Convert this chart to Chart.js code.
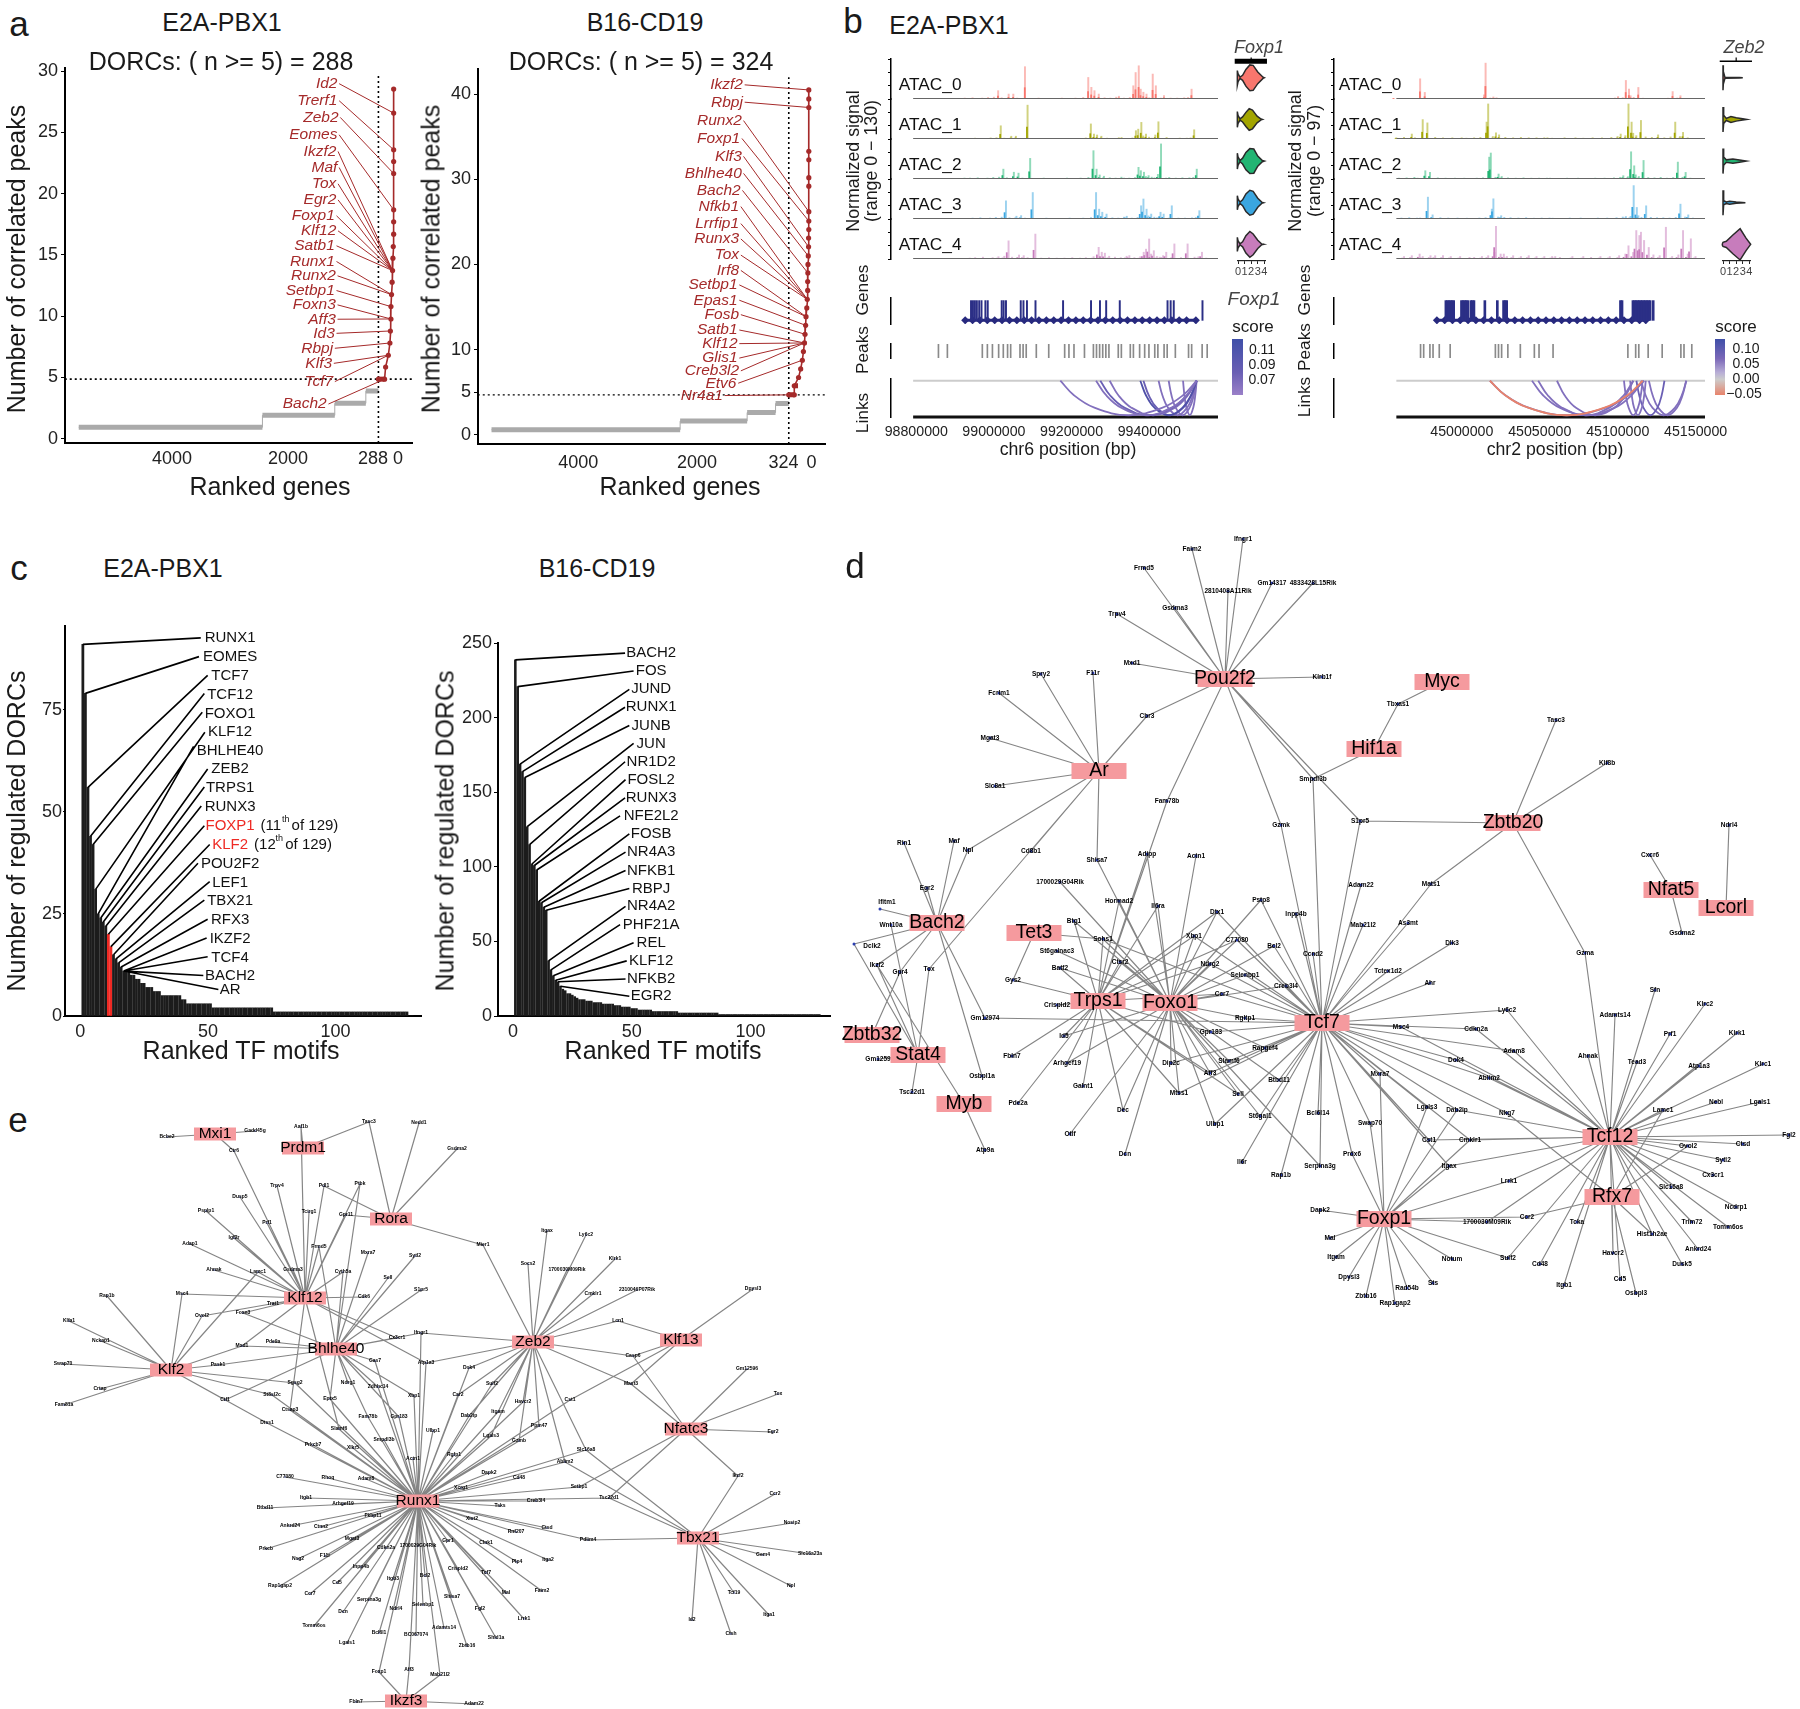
<!DOCTYPE html>
<html>
<head>
<meta charset="utf-8">
<title>DORC and TF network figure</title>
<script src="https://cdn.jsdelivr.net/npm/chart.js@4"></script>
<style>
body { margin: 0; background: #fff; width: 1800px; height: 1709px; position: relative; overflow: hidden; font-family: "Liberation Sans", sans-serif; }
canvas { position: absolute; }
.t { position: absolute; white-space: nowrap; line-height: 1; color: #1a1a1a; transform: translate(-50%, -50%); }
.bar { position: absolute; width: 10.5px; height: 56px; top: 339px; }
</style>
</head>
<body>
<script>
// panel a : ranked genes, steps of the curve and the DORC points
const a1GrayRank = [5500, 2305, 1047, 507, 288];
const a1GrayN = [0.93, 1.91, 2.89, 3.9];
const a1RedRank = [23, 23, 23, 23, 23, 23, 23, 23, 30, 36, 42, 50, 60, 70, 70, 80, 88, 116, 163, 181];
const a1RedN = [28.53, 26.57, 23.58, 22.62, 21.64, 18.68, 17.7, 16.69, 15.68, 14.73, 13.72, 12.77, 11.76, 10.78, 9.77, 8.79, 7.81, 6.81, 5.85, 4.86];
const a1Genes = ['Id2', 'Trerf1', 'Zeb2', 'Eomes', 'Ikzf2', 'Maf', 'Tox', 'Egr2', 'Foxp1', 'Klf12', 'Satb1', 'Runx1', 'Runx2', 'Setbp1', 'Foxn3', 'Aff3', 'Id3', 'Rbpj', 'Klf3', 'Tcf7', 'Bach2'];
const a1GeneRank = [1001, 1001, 982, 1001, 1020, 1001, 1020, 1020, 1047, 1020, 1047, 1047, 1029, 1047, 1029, 1029, 1047, 1076, 1094, 1076, 1187];
const a1GeneN = [28.97, 27.58, 26.22, 24.8, 23.44, 22.13, 20.8, 19.49, 18.19, 16.96, 15.74, 14.46, 13.29, 12.09, 10.92, 9.75, 8.6, 7.38, 6.15, 4.66, 2.83];
const a1GenePoint = [1, 2, 4, 5, 10, 10, 10, 10, 10, 10, 10, 12, 12, 13, 14, 14, 15, 16, 17, 17, 19];
const a1YTicks = [0, 5, 10, 15, 20, 25, 30];
// the printed labels sit a little away from the true ranks
const a1XTicks = [3878, 1861, 383, -52];
const a1XLabels = ['4000', '2000', '288', '0'];

const a2GrayRank = [5337, 2156, 1026, 547, 324];
const a2GrayN = [0.59, 1.6, 2.6, 3.67];
const a2RedRank = [-14, -14, -14, -14, -14, -14, -14, -14, -14, -14, -10, -10, -5, 0, 2, 5, 5, 12, 20, 33, 40, 50, 59, 77, 95, 123, 159, 231, 231];
const a2RedN = [40.5, 39.45, 38.44, 33.3, 32.3, 30.2, 29.2, 26.2, 25.1, 24.1, 23.1, 22.07, 21, 20, 19, 18, 16.95, 15.9, 14.9, 13.87, 12.85, 11.8, 10.78, 9.77, 8.75, 7.73, 6.72, 5.74, 4.69];
const a2Genes = ['Ikzf2', 'Rbpj', 'Runx2', 'Foxp1', 'Klf3', 'Bhlhe40', 'Bach2', 'Nfkb1', 'Lrrfip1', 'Runx3', 'Tox', 'Irf8', 'Setbp1', 'Epas1', 'Fosb', 'Satb1', 'Klf12', 'Glis1', 'Creb3l2', 'Etv6', 'Nr4a1'];
const a2GeneRank = [1098, 1098, 1117, 1144, 1117, 1117, 1135, 1162, 1162, 1162, 1162, 1162, 1188, 1188, 1162, 1188, 1188, 1188, 1162, 1207, 1434];
const a2GeneN = [41.1, 39.06, 36.9, 34.8, 32.7, 30.7, 28.7, 26.8, 24.8, 23, 21.1, 19.3, 17.6, 15.8, 14.1, 12.3, 10.7, 9, 7.5, 6.05, 4.6];
const a2GenePoint = [0, 2, 7, 8, 11, 12, 14, 17, 17, 17, 17, 19, 19, 20, 21, 22, 22, 22, 22, 24, 28];
const a2YTicks = [0, 5, 10, 20, 30, 40];
const a2XTicks = [3873, 1873, 412, -59];
const a2XLabels = ['4000', '2000', '324', '0'];

// panel b : positions in kb, signal in the units of each range
const leftSpikePos = [98926, 99026, 99053, 99065, 99095, 99258, 99266, 99274, 99285, 99337, 99374, 99380, 99388, 99393, 99400, 99408, 99424, 99432, 99453, 99487, 99524];
const leftSpike0 = [2, 27, 16, 16, 105, 70, 38, 27, 16, 9, 43, 86, 108, 32, 22, 16, 81, 43, 11, 3, 32];
const leftSpike1 = [2, 43, 9, 9, 110, 49, 16, 13, 9, 5, 27, 32, 54, 10, 16, 6, 13, 56, 5, 3, 30];
const leftSpike2 = [3, 32, 22, 19, 67, 92, 32, 13, 9, 3, 38, 27, 22, 8, 11, 6, 15, 114, 5, 4, 32];
const leftSpike3 = [2, 59, 9, 11, 86, 86, 32, 22, 16, 9, 43, 65, 32, 10, 16, 6, 22, 16, 43, 3, 27];
const leftSpike4 = [3, 59, 13, 11, 81, 38, 22, 19, 9, 11, 22, 32, 65, 16, 27, 8, 11, 22, 49, 49, 22];
const leftLowPos = [98940, 98960, 98985, 99000, 99015, 99035, 99075, 99110, 99130, 99150, 99170, 99190, 99210, 99225, 99245, 99300, 99315, 99330, 99350, 99365, 99415, 99445, 99470, 99505, 99515, 99535];
const leftLowVal = [3, 4, 3, 5, 6, 4, 3, 2, 3, 2, 2, 3, 2, 3, 5, 4, 3, 6, 3, 5, 4, 3, 3, 4, 5, 2];
const leftLowScale = [1, 0.7, 1, 1, 1.5];
const rightSpikePos = [44970, 44977, 44980, 45002, 45018, 45019, 45024, 45026, 45045, 45057, 45104, 45109, 45111, 45112, 45114, 45117, 45128, 45139, 45144];
const rightSpike0 = [1, 49, 16, 1, 10, 87, 5, 3, 1, 1, 6, 45, 24, 8, 4, 28, 1, 18, 8];
const rightSpike1 = [12, 47, 39, 3, 41, 85, 15, 10, 3, 3, 12, 85, 41, 14, 8, 45, 10, 41, 16];
const rightSpike2 = [4, 20, 16, 2, 53, 63, 12, 6, 2, 2, 8, 66, 32, 10, 6, 45, 4, 41, 16];
const rightSpike3 = [2, 53, 10, 2, 24, 49, 8, 4, 2, 2, 6, 81, 28, 8, 4, 32, 3, 36, 10];
const rightSpike4 = [12, 8, 8, 4, 16, 79, 12, 6, 6, 6, 32, 69, 57, 65, 45, 28, 77, 69, 49];
const rightLowPos = [44960, 44965, 44972, 44985, 44990, 44996, 45005, 45010, 45014, 45022, 45030, 45035, 45040, 45050, 45055, 45060, 45068, 45075, 45080, 45086, 45092, 45098, 45102, 45107, 45120, 45124, 45132, 45136, 45142, 45147];
const rightLowVal = [3, 4, 3, 4, 3, 3, 2, 3, 4, 6, 4, 3, 4, 3, 3, 2, 3, 3, 2, 3, 3, 4, 6, 8, 5, 4, 3, 5, 6, 3];
const rightLowScale = [0.4, 1, 0.7, 0.8, 2];
const leftExons = [98926, 98931, 98936, 98941, 98947, 98953, 98963, 98969, 99005, 99010, 99016, 99054, 99061, 99070, 99092, 99163, 99235, 99258, 99274, 99309, 99432, 99440, 99448, 99522];
const leftArrows = [98926, 98945, 98964, 98983, 99002, 99021, 99040, 99059, 99078, 99097, 99116, 99135, 99154, 99173, 99192, 99211, 99230, 99249, 99268, 99287, 99306, 99325, 99344, 99363, 99382, 99401, 99420, 99439, 99458, 99477, 99496, 99520];
const rightExons = [44984, 44985, 44986, 44987, 44988, 44989, 44994, 44995, 44996, 44997, 44998, 45000, 45001, 45002, 45009, 45017, 45021, 45022, 45023, 45096, 45097, 45104, 45105, 45106, 45107, 45108, 45109, 45110, 45111, 45112, 45113, 45114, 45115, 45117];
const rightArrows = [44984, 44989, 44994, 44999, 45004, 45009, 45014, 45019, 45024, 45029, 45034, 45039, 45044, 45049, 45054, 45059, 45064, 45069, 45074, 45079, 45084, 45089, 45094, 45099, 45104, 45109, 45114, 45118];
const leftPeaks = [98843, 98866, 98956, 98969, 98982, 98998, 99010, 99021, 99029, 99053, 99061, 99069, 99095, 99127, 99168, 99179, 99192, 99219, 99242, 99250, 99258, 99266, 99274, 99282, 99306, 99314, 99337, 99345, 99361, 99374, 99385, 99400, 99408, 99424, 99432, 99453, 99487, 99495, 99522, 99535];
const rightPeaks = [44970, 44972, 44976, 44978, 44982, 44989, 45018, 45020, 45022, 45026, 45034, 45043, 45046, 45055, 45103, 45108, 45110, 45116, 45125, 45137, 45139, 45144];
const leftLinkStart = [99171, 99263, 99274, 99298, 99377, 99385, 99424, 99450, 99487];
const leftLinkEnd = [99522, 99522, 99522, 99522, 99522, 99522, 99522, 99522, 99522];
const leftLinkScore = [0.08, 0.08, 0.09, 0.08, 0.11, 0.09, 0.08, 0.08, 0.07];
const rightLinkStart = [45018, 45018, 45045, 45049, 45061, 45104, 45108, 45112, 45115, 45120];
const rightLinkEnd = [45116, 45117, 45116, 45110, 45110, 45116, 45118, 45130, 45144, 45144];
const rightLinkScore = [-0.05, 0.07, 0.06, 0.07, 0.06, 0.08, 0.08, 0.09, 0.07, 0.07];
const leftTicks = [98800000, 99000000, 99200000, 99400000];
const rightTicks = [45000000, 45050000, 45100000, 45150000];
const clusterNames = ['ATAC_0', 'ATAC_1', 'ATAC_2', 'ATAC_3', 'ATAC_4'];
const violinTicks = [0, 1, 2, 3, 4];
const foxp1Expr = [[-0.1, 0, 0.3, 0.7, 1.2, 1.8, 2.3, 3, 3.8, 4], [-0.1, 0, 0.3, 0.7, 1.2, 1.7, 2.2, 2.9, 3.5, 3.7], [-0.1, 0, 0.3, 0.7, 1.2, 1.8, 2.4, 3, 3.7, 4], [-0.1, 0, 0.3, 0.7, 1.2, 1.8, 2.3, 3, 3.6, 3.9], [-0.1, 0, 0.3, 0.7, 1.2, 1.8, 2.3, 3, 3.6, 3.9]];
const foxp1Dens = [[0.35, 0.2, 0.03, 0.12, 0.4, 0.62, 0.6, 0.28, 0.03, 0], [0.38, 0.2, 0.03, 0.12, 0.34, 0.52, 0.45, 0.16, 0.02, 0], [0.38, 0.2, 0.03, 0.14, 0.42, 0.6, 0.58, 0.24, 0.03, 0], [0.34, 0.18, 0.03, 0.14, 0.42, 0.6, 0.55, 0.22, 0.03, 0], [0.34, 0.18, 0.02, 0.12, 0.42, 0.62, 0.5, 0.2, 0.02, 0]];
const zeb2Expr = [[0, 0.05, 0.3, 2.5, 3], [0, 0.1, 0.5, 1.2, 2, 3, 3.6], [0, 0.1, 0.5, 1.5, 2.5, 3.5], [0, 0.1, 0.5, 1, 2, 3.4], [-0.1, 0, 0.5, 1.5, 2.6, 3.5, 4.2]];
const zeb2Dens = [[0.6, 0.3, 0.02, 0.012, 0], [0.6, 0.2, 0.05, 0.14, 0.08, 0.03, 0], [0.6, 0.2, 0.06, 0.1, 0.05, 0], [0.6, 0.1, 0.04, 0.07, 0.03, 0], [0.03, 0.1, 0.15, 0.45, 0.75, 0.3, 0]];

// panel c : regulated DORCs per ranked TF motif
const c1Values = [91, 79, 56, 44, 42, 31, 25, 24, 23, 22, 20, 17, 15, 14, 13, 12, 11, 11, 11, 10, 10, 9, 9, 8, 8, 7, 7, 7, 6, 6, 6, 5, 5, 5, 5, 5, 5, 5, 5, 4, 4,
  3, 3, 3, 3, 3, 3, 3, 3, 3, 3, 2, 2, 2, 2, 2, 2, 2, 2, 2, 2, 2, 2, 2, 2, 2, 2, 2, 2, 2, 2, 2, 2, 2, 2,
  1, 1, 1, 1, 1, 1, 1, 1, 1, 1, 1, 1, 1, 1, 1, 1, 1, 1, 1, 1, 1, 1, 1, 1, 1, 1, 1, 1, 1, 1, 1, 1, 1, 1, 1, 1, 1, 1, 1, 1, 1, 1, 1, 1, 1, 1, 1, 1, 1, 1, 1, 1, 1, 0, 0];
const c1Names = ['RUNX1', 'EOMES', 'TCF7', 'TCF12', 'FOXO1', 'KLF12', 'BHLHE40', 'ZEB2', 'TRPS1', 'RUNX3', 'FOXP1', 'KLF2', 'POU2F2', 'LEF1', 'TBX21', 'RFX3', 'IKZF2', 'TCF4', 'BACH2', 'AR'];
const c1NameY = [92.6, 88, 83.4, 78.7, 74.1, 69.5, 65, 60.4, 55.8, 51.2, 46.6, 42, 37.3, 32.6, 28.2, 23.5, 18.9, 14.3, 9.9, 6.3];
const c1EndRank = [47.2, 46.5, 49.9, 48.6, 47.8, 48.8, 44.4, 49.9, 48.6, 47.4, 48.6, 50.7, 46.1, 50.7, 48.6, 49.9, 49.5, 49.9, 48.2, 54.1];
const c1EndY = [92.6, 88, 83.4, 79, 74.4, 69.5, 66, 60.5, 56.1, 51.4, 46.6, 42, 37.4, 32.9, 28.4, 23.7, 19.1, 14.5, 9.9, 6.5];
const c1StartRank = [1, 2, 3, 4, 5, 6, 7, 8, 9, 10, 11, 12, 13, 14, 15, 16, 17, 17, 17, 17];
const c1XTicks = [0, 50, 100];
const c1YTicks = [0, 25, 50, 75];

const c2Values = [239, 221, 169, 164, 160, 127, 115, 102, 101, 98, 77, 76, 73, 71, 37, 31, 27, 24, 23, 20,
  18, 17, 15, 15, 14, 13, 12, 11, 11, 11, 10, 10, 10, 9, 9, 9, 9, 8, 8, 8, 8, 8, 7, 7, 7, 6, 6, 6, 6, 5, 5, 5, 4, 4, 4, 4, 4, 4,
  3, 3, 3, 3, 3, 3, 3, 3, 3, 3, 3, 2, 2, 2, 2, 2, 2, 2, 2, 2, 2, 2, 2, 2, 2, 2, 2, 2,
  1, 1, 1, 1, 1, 1, 1, 1, 1, 1, 1, 1, 1, 1, 1, 1, 1, 1, 1, 1, 1, 1, 1, 1, 1, 1, 1, 1, 1, 1, 1, 1, 1, 1, 1, 1, 1, 1, 1, 1, 1, 1, 1];
const c2Names = ['BACH2', 'FOS', 'JUND', 'RUNX1', 'JUNB', 'JUN', 'NR1D2', 'FOSL2', 'RUNX3', 'NFE2L2', 'FOSB', 'NR4A3', 'NFKB1', 'RBPJ', 'NR4A2', 'PHF21A', 'REL', 'KLF12', 'NFKB2', 'EGR2'];
const c2EndRank = [47.2, 50.8, 49, 47.2, 49, 50.8, 47.2, 47.4, 47.2, 45.1, 49, 47.4, 47.4, 49, 47.4, 45.1, 50.8, 47.9, 47.4, 49];
const c2EndY = [243.5, 231.5, 219.2, 207.2, 194.9, 182.9, 170.6, 158.6, 146.3, 134.3, 122.2, 110, 97.7, 85.6, 73.6, 61.3, 49.1, 37, 24.8, 13.2];
const c2StartRank = [1, 2, 3, 4, 5, 6, 7, 8, 9, 10, 11, 12, 13, 14, 15, 16, 17, 18, 19, 20];
const c2XTicks = [0, 50, 100];
const c2YTicks = [0, 50, 100, 150, 200, 250];

// panel d : TF hubs and target genes, layout positions of the graph
const dHubs = [['Pou2f2', 1225, 677], ['Ar', 1099, 769], ['Myc', 1442, 680], ['Hif1a', 1374, 747], ['Zbtb20', 1513, 821], ['Nfat5', 1671, 888], ['Lcorl', 1726, 906], ['Bach2', 937, 921], ['Tet3', 1034, 931], ['Trps1', 1098, 999], ['Foxo1', 1170, 1001], ['Tcf7', 1322, 1021], ['Tcf12', 1610, 1135], ['Rfx7', 1612, 1195], ['Foxp1', 1384, 1217], ['Zbtb32', 872, 1033], ['Stat4', 918, 1053], ['Myb', 964, 1102]];
const dGenes = [
  ['Ifngr1', 1243, 537, 'Pou2f2'], ['Faim2', 1192, 547, 'Pou2f2'], ['Frmd5', 1144, 566, 'Pou2f2'], ['2810408A11Rik', 1228, 589, 'Pou2f2'],
  ['Gm14317', 1272, 581, 'Pou2f2'], ['4833428L15Rik', 1313, 581, 'Pou2f2'], ['Gsdma3', 1175, 606, 'Pou2f2'], ['Trpv4', 1117, 612, 'Pou2f2'],
  ['Mxd1', 1132, 661, 'Pou2f2'], ['Klrb1f', 1322, 675, 'Pou2f2'], ['Spry2', 1041, 672, 'Ar'], ['F11r', 1093, 671, 'Ar'], ['Fcrlm1', 999, 691, 'Ar'],
  ['Cbr3', 1147, 714, 'Ar Pou2f2'], ['Mgat3', 990, 736, 'Ar'], ['Slc8a1', 995, 784, 'Ar'], ['Fam78b', 1167, 799, 'Pou2f2 Trps1'],
  ['Smpdl3b', 1313, 777, 'Pou2f2 Hif1a Tcf7'], ['Gzmk', 1281, 823, 'Pou2f2 Tcf7'], ['Rin1', 904, 841, 'Bach2'], ['Maf', 954, 839, 'Bach2'],
  ['Npl', 968, 848, 'Bach2 Ar'], ['Cd8b1', 1031, 849, 'Ar'], ['Shisa7', 1097, 858, 'Ar Foxo1'], ['Adipp', 1147, 852, 'Trps1 Foxo1'], ['Actn1', 1196, 854, 'Foxo1'],
  ['S1pr5', 1360, 819, 'Zbtb20 Pou2f2 Tcf7'], ['Adam22', 1361, 883, 'Tcf7'], ['Mats1', 1431, 882, 'Zbtb20 Tcf7'], ['Mab21l2', 1363, 923, 'Tcf7'],
  ['As3mt', 1408, 921, 'Tcf7'], ['Dlk3', 1452, 941, 'Tcf7'], ['Tctex1d2', 1388, 969, 'Tcf7'], ['Ahr', 1430, 981, 'Tcf7'], ['Ccnd2', 1313, 952, 'Tcf7'],
  ['Inpp4b', 1296, 912, 'Tcf7'], ['Pstp8', 1261, 898, 'Foxo1 Tcf7'], ['Bcl2', 1274, 944, 'Foxo1 Tcf7'], ['Dtx1', 1217, 910, 'Trps1 Foxo1 Tcf7'],
  ['Xbp1', 1194, 934, 'Trps1 Foxo1 Tcf7'], ['C77080', 1237, 938, 'Trps1 Foxo1 Tcf7'], ['Ndrg2', 1210, 962, 'Trps1 Foxo1 Tcf7'], ['Selenbp1', 1245, 973, 'Foxo1 Tcf7'],
  ['Creb3l4', 1286, 984, 'Foxo1 Tcf7'], ['Ccr7', 1222, 992, 'Trps1 Foxo1 Tcf7'], ['Rgltp1', 1245, 1016, 'Foxo1 Tcf7'], ['Gpr183', 1211, 1030, 'Trps1 Tcf7'],
  ['Rapgef4', 1265, 1046, 'Foxo1 Tcf7'], ['Slamf6', 1229, 1059, 'Foxo1 Tcf7'], ['Aff3', 1210, 1071, 'Trps1 Foxo1 Tcf7'], ['Dip2c', 1171, 1061, 'Foxo1 Tcf7'],
  ['Mtss1', 1179, 1091, 'Trps1 Foxo1 Tcf7'], ['Sell', 1238, 1092, 'Trps1 Foxo1'], ['Btbd11', 1279, 1078, 'Foxo1 Tcf7'], ['St6gal1', 1260, 1114, 'Foxo1 Tcf7'],
  ['Ulbp1', 1215, 1122, 'Foxo1 Tcf7'], ['Il6r', 1242, 1160, 'Tcf7'], ['Rap1b', 1281, 1173, 'Tcf7'], ['Serpina3g', 1320, 1164, 'Tcf7 Foxo1'],
  ['Bcl6l14', 1318, 1111, 'Tcf7'], ['Swap70', 1370, 1121, 'Tcf7 Foxp1'], ['Prdx6', 1352, 1152, 'Tcf7 Foxp1'], ['Mxra7', 1380, 1072, 'Tcf7 Foxp1'],
  ['Lgals3', 1427, 1105, 'Tcf7 Foxp1'], ['Dab2ip', 1457, 1108, 'Tcf12 Foxp1 Tcf7'], ['Cst1', 1429, 1138, 'Tcf7 Tcf12'], ['Cmklr1', 1470, 1138, 'Tcf7 Tcf12 Foxp1'],
  ['Itgax', 1449, 1164, 'Tcf7 Tcf12 Foxp1'], ['Lrrk1', 1509, 1179, 'Foxp1 Tcf12'], ['Ly6c2', 1507, 1008, 'Tcf7 Tcf12'], ['Msc4', 1401, 1025, 'Tcf7 Tcf12'],
  ['Cdkn2a', 1476, 1027, 'Tcf7 Tcf12'], ['Adam8', 1514, 1049, 'Tcf7 Tcf12'], ['Dok4', 1456, 1058, 'Tcf7 Tcf12'], ['Ablim2', 1489, 1076, 'Tcf7 Tcf12'],
  ['Nkg7', 1507, 1111, 'Tcf7 Rfx7'], ['Gzma', 1585, 951, 'Zbtb20 Tcf12'], ['Tasc3', 1556, 718, 'Zbtb20'], ['Klf8b', 1607, 761, 'Zbtb20'], ['Cxcr6', 1650, 853, 'Nfat5'],
  ['Ndrl4', 1729, 823, 'Lcorl'], ['Gsdma2', 1682, 931, 'Nfat5'], ['Tbxas1', 1398, 702, 'Myc Hif1a'], ['Adamts14', 1615, 1013, 'Tcf12'], ['Ahnak', 1588, 1054, 'Tcf12'],
  ['Tead3', 1637, 1060, 'Tcf12'], ['Sfn', 1655, 988, 'Tcf12'], ['Prf1', 1670, 1032, 'Tcf12'], ['Klrc2', 1705, 1002, 'Tcf12'], ['Klrk1', 1737, 1031, 'Tcf12'],
  ['Atp1a3', 1699, 1064, 'Tcf12'], ['Klrc1', 1763, 1062, 'Tcf12'], ['Nebl', 1716, 1100, 'Tcf12'], ['Lgals1', 1760, 1100, 'Tcf12'], ['Lamc1', 1663, 1108, 'Tcf12 Rfx7'],
  ['Fgl2', 1789, 1133, 'Tcf12'], ['Ctsd', 1743, 1142, 'Tcf12'], ['Ovol2', 1688, 1144, 'Tcf12 Rfx7'], ['Sytl2', 1723, 1158, 'Tcf12'], ['Cx3cr1', 1713, 1173, 'Tcf12'],
  ['Slc16a8', 1671, 1185, 'Tcf12'], ['Ncdrp1', 1736, 1205, 'Tcf12'], ['Trim72', 1692, 1220, 'Tcf12'], ['Tomm6os', 1728, 1225, 'Tcf12'], ['Hist1h2ae', 1652, 1232, 'Tcf12 Rfx7'],
  ['Ankrd24', 1698, 1247, 'Tcf12'], ['Ccr2', 1527, 1215, 'Foxp1 Rfx7'], ['1700030M09Rik', 1487, 1220, 'Foxp1 Tcf12'], ['Tcka', 1577, 1220, 'Tcf12'],
  ['Havcr2', 1613, 1251, 'Rfx7 Tcf12'], ['Dapk2', 1320, 1208, 'Foxp1'], ['Mal', 1330, 1236, 'Foxp1'], ['Itgam', 1336, 1255, 'Foxp1'], ['Notum', 1452, 1257, 'Foxp1'],
  ['Sulf2', 1508, 1256, 'Foxp1 Tcf12'], ['Dpysl3', 1349, 1275, 'Foxp1'], ['Zbtb16', 1366, 1294, 'Foxp1'], ['Rap1gap2', 1395, 1301, 'Foxp1'], ['Rad54b', 1407, 1286, 'Foxp1'],
  ['Sts', 1433, 1281, 'Foxp1'], ['Cd48', 1540, 1262, 'Tcf12'], ['Itgb1', 1564, 1283, 'Tcf12'], ['Cd5', 1620, 1277, 'Tcf12'], ['Osbpl3', 1636, 1291, 'Rfx7'], ['Dusk5', 1682, 1262, 'Tcf12'],
  ['Egr2', 927, 886, 'Bach2'], ['Wnt10a', 891, 923, 'Stat4'], ['Ikzf2', 877, 963, 'Bach2 Stat4 Myb'], ['Gpr4', 900, 970, 'Bach2 Zbtb32'], ['Tox', 929, 967, 'Ar Stat4'],
  ['Gm12974', 985, 1016, 'Bach2 Tcf7'], ['Gm1259', 878, 1057, 'Stat4'], ['Tsc22d1', 912, 1090, 'Stat4'], ['Osbpl1a', 982, 1074, 'Bach2'], ['Atp9a', 985, 1148, 'Myb'],
  ['Gys2', 1013, 978, 'Tet3 Trps1'], ['Sohs1', 1103, 937, 'Tet3 Foxo1 Trps1 Tcf7'], ['1700029G04Rik', 1060, 880, 'Foxo1'], ['Hormad2', 1119, 899, 'Trps1 Foxo1'],
  ['Il6ra', 1158, 904, 'Trps1 Foxo1'], ['Btg1', 1074, 919, 'Trps1 Foxo1'], ['St6galnac3', 1057, 949, 'Foxo1'], ['Batf2', 1060, 966, 'Trps1 Foxo1'], ['Ctsr2', 1120, 960, 'Trps1 Foxo1'],
  ['Crispld2', 1057, 1003, 'Trps1'], ['Fbln7', 1012, 1054, 'Trps1'], ['Id5', 1064, 1034, 'Trps1 Foxo1'], ['Arhgef19', 1067, 1061, 'Trps1 Foxo1'], ['Galnt1', 1083, 1084, 'Trps1'],
  ['Pde2a', 1018, 1101, 'Trps1'], ['Otlf', 1070, 1132, 'Foxo1'], ['Dec', 1123, 1108, 'Trps1 Foxo1'], ['Dcn', 1125, 1152, 'Foxo1']
];
// these two have the name set beside the dot
const dOffset = [['Ifitm1', 880, 907, 'Bach2', 887, 900], ['Dclk2', 854, 942, 'Bach2 Stat4', 872, 944]];

// panel e
const eHubs = [['Mxi1', 215, 1132], ['Prdm1', 303, 1146], ['Rora', 391, 1217], ['Klf12', 305, 1296], ['Bhlhe40', 336, 1347], ['Klf2', 171, 1368], ['Zeb2', 533, 1340], ['Klf13', 681, 1338], ['Nfatc3', 686, 1427], ['Runx1', 418, 1499], ['Tbx21', 698, 1536], ['Ikzf3', 406, 1699]];
const eGenes = [
  ['Bcbe2', 167, 1135, 'Mxi1'], ['Gadd45g', 255, 1129, 'Mxi1'], ['Ctr6', 234, 1149, 'Mxi1 Klf12'], ['Aaf1b', 301, 1125, 'Prdm1 Klf12'], ['Tasc3', 369, 1120, 'Prdm1 Rora'],
  ['Nedd1', 419, 1121, 'Rora'], ['Gsdma2', 457, 1147, 'Rora'], ['Trpv4', 277, 1184, 'Klf12'], ['Pdl1', 324, 1184, 'Rora Klf12'], ['Ptbk', 360, 1182, 'Klf12 Bhlhe40'],
  ['Dusp5', 240, 1195, 'Klf12'], ['Prf1', 267, 1221, 'Klf12'], ['Tcirg1', 309, 1210, 'Klf12'], ['Gpr11', 346, 1213, 'Rora Klf12'], ['Psplp1', 206, 1209, 'Klf12'],
  ['Igf2r', 234, 1236, 'Klf12'], ['Adap1', 190, 1242, 'Klf12'], ['Frmd5', 319, 1245, 'Klf12 Bhlhe40'], ['Mxra7', 368, 1251, 'Bhlhe40'], ['Ahnak', 214, 1268, 'Klf12'],
  ['Lamc1', 258, 1270, 'Klf12 Klf2'], ['Gsdma3', 293, 1268, 'Klf12'], ['Cyth5a', 343, 1270, 'Klf12 Bhlhe40'], ['Sell', 388, 1276, 'Bhlhe40'], ['Sytl2', 415, 1254, 'Bhlhe40'],
  ['S1pr5', 421, 1288, 'Bhlhe40'], ['Cdk6', 364, 1295, 'Klf12'], ['Msc4', 182, 1292, 'Klf12 Klf2'], ['Rap1b', 107, 1294, 'Klf2'], ['Klfa1', 69, 1319, 'Klf2'],
  ['Nckap1', 101, 1339, 'Klf2'], ['Swap70', 63, 1362, 'Klf2'], ['Crtap', 100, 1387, 'Klf2'], ['Fam81a', 64, 1403, 'Klf2'], ['Ovol2', 202, 1314, 'Klf12 Klf2'],
  ['Foxn3', 243, 1311, 'Klf12 Bhlhe40'], ['Trat1', 273, 1302, 'Klf12'], ['Mxd1', 242, 1344, 'Klf12 Bhlhe40 Klf2'], ['Pde9a', 273, 1340, 'Bhlhe40'], ['Pask1', 218, 1363, 'Klf2 Bhlhe40'],
  ['Cx3cr1', 397, 1336, 'Bhlhe40 Klf12'], ['Ifngr1', 421, 1331, 'Bhlhe40 Zeb2 Runx1'], ['Atp1a3', 426, 1361, 'Zeb2 Runx1 Klf12'], ['Gas7', 375, 1359, 'Bhlhe40 Runx1'], ['Sgsg2', 295, 1381, 'Klf2 Runx1'],
  ['Ndrg1', 348, 1381, 'Bhlhe40'], ['Zdhhc14', 378, 1385, 'Bhlhe40 Runx1'], ['Ctf1', 225, 1398, 'Klf2 Bhlhe40'], ['St8sl2c', 272, 1393, 'Klf2 Runx1'], ['Ctsap3', 290, 1408, 'Klf12 Runx1'],
  ['Eptx5', 330, 1397, 'Bhlhe40 Runx1'], ['Xbp1', 414, 1394, 'Bhlhe40 Runx1'], ['Fam78b', 368, 1415, 'Bhlhe40 Runx1'], ['Gpr183', 399, 1415, 'Bhlhe40 Runx1'],
  ['Mier1', 483, 1243, 'Rora Zeb2'], ['Itgax', 547, 1229, 'Zeb2'], ['Ly6c2', 586, 1233, 'Zeb2'], ['Socs2', 528, 1262, 'Zeb2'], ['1700030M09Rik', 567, 1268, 'Zeb2'], ['Klrk1', 615, 1257, 'Zeb2'],
  ['Cmklr1', 593, 1292, 'Zeb2'], ['2310046P07Rik', 637, 1288, 'Zeb2'], ['Lcn1', 618, 1319, 'Zeb2 Klf13'], ['Dpysl3', 753, 1287, 'Klf13'], ['Casp6', 633, 1354, 'Zeb2 Klf13 Nfatc3'],
  ['Mast3', 631, 1382, 'Zeb2 Klf13 Nfatc3'], ['Gm12596', 747, 1367, 'Nfatc3'], ['Tox', 778, 1392, 'Nfatc3'], ['Egr2', 773, 1430, 'Nfatc3'], ['Cst1', 570, 1398, 'Klf13 Runx1'],
  ['Dok4', 469, 1366, 'Zeb2 Runx1'], ['Car2', 458, 1393, 'Zeb2 Runx1'], ['Sulf2', 492, 1382, 'Zeb2 Runx1'], ['Havcr2', 523, 1400, 'Zeb2 Runx1'], ['Dab2ip', 469, 1414, 'Zeb2 Runx1'],
  ['Itgam', 498, 1410, 'Zeb2 Runx1'], ['Ppm47', 539, 1424, 'Zeb2 Runx1'], ['Lgals3', 491, 1434, 'Zeb2 Runx1'], ['Gzmb', 519, 1439, 'Zeb2 Runx1'], ['Slc16a8', 586, 1448, 'Zeb2 Runx1 Tbx21'],
  ['Ablim2', 565, 1460, 'Zeb2 Runx1 Tbx21'], ['Ikzf2', 738, 1474, 'Nfatc3 Tbx21'], ['Setbp1', 579, 1485, 'Runx1 Nfatc3'], ['Tsc22d1', 609, 1496, 'Runx1 Nfatc3 Tbx21'],
  ['Ccr2', 775, 1492, 'Tbx21'], ['Nosip2', 792, 1521, 'Tbx21'], ['Slc16a23a', 810, 1552, 'Tbx21'], ['Gem4', 763, 1553, 'Tbx21'], ['Npl', 791, 1584, 'Tbx21'], ['Tcf19', 734, 1591, 'Tbx21'],
  ['Itga1', 769, 1613, 'Tbx21'], ['Ctsh', 731, 1632, 'Tbx21'], ['Id2', 692, 1618, 'Tbx21'], ['Pdlim4', 588, 1538, 'Runx1 Tbx21'], ['Ctsd', 547, 1526, 'Runx1'], ['Creb3l4', 536, 1499, 'Runx1'],
  ['Tsks', 500, 1504, 'Runx1'], ['Dapk2', 489, 1471, 'Runx1'], ['Cd48', 519, 1476, 'Runx1'], ['Xcrg1', 461, 1486, 'Runx1'], ['Rgfp1', 454, 1453, 'Runx1'], ['Ulbp1', 433, 1429, 'Runx1'],
  ['Actn1', 413, 1457, 'Runx1'], ['Xlkr5', 353, 1446, 'Runx1'], ['Slamf6', 339, 1427, 'Runx1 Klf12'], ['Prkcb7', 313, 1443, 'Runx1'], ['Smpdl3b', 384, 1438, 'Runx1'], ['Dtss1', 267, 1421, 'Klf2 Runx1'],
  ['C77080', 285, 1475, 'Runx1'], ['Rhoq', 328, 1476, 'Runx1'], ['Adam8', 366, 1477, 'Runx1'], ['Itgb1', 306, 1496, 'Runx1'], ['Arhgef19', 343, 1502, 'Runx1'], ['Btbd11', 265, 1506, 'Runx1'],
  ['Ankrd24', 290, 1524, 'Runx1'], ['Ctnn2', 321, 1525, 'Runx1'], ['Fkbp11', 373, 1514, 'Runx1'], ['Prkcb', 266, 1547, 'Runx1'], ['Nsg2', 298, 1557, 'Runx1'], ['F11r', 325, 1554, 'Runx1'],
  ['Mgat3', 352, 1537, 'Runx1'], ['Cdkn2a', 386, 1546, 'Runx1'], ['1700029G04Rik', 418, 1544, 'Runx1'], ['Rap1gap2', 280, 1584, 'Runx1'], ['Cd5', 337, 1581, 'Runx1'], ['Ccr7', 310, 1592, 'Runx1'],
  ['Inpp4b', 361, 1565, 'Runx1'], ['Itgb3', 393, 1577, 'Runx1'], ['Serpina3g', 369, 1598, 'Runx1'], ['Dcn', 343, 1610, 'Runx1'], ['Ndrl4', 396, 1607, 'Runx1'], ['Selenbp1', 423, 1603, 'Runx1'],
  ['Bcl2', 425, 1574, 'Runx1'], ['Tomm6os', 314, 1624, 'Runx1'], ['Bcl6l1', 379, 1631, 'Runx1'], ['Lgals1', 347, 1641, 'Runx1'], ['BC067074', 416, 1633, 'Runx1'], ['Adamts14', 444, 1626, 'Runx1'],
  ['Zbtb16', 467, 1644, 'Runx1'], ['Shisa7', 452, 1595, 'Runx1'], ['Gpr1', 448, 1539, 'Runx1'], ['Crispld2', 458, 1567, 'Runx1'], ['Fgl2', 480, 1607, 'Runx1'], ['Shld1a', 496, 1636, 'Runx1'],
  ['Clnk1', 486, 1541, 'Runx1'], ['Xist2', 472, 1517, 'Runx1'], ['Rnf207', 516, 1530, 'Runx1'], ['Itga2', 548, 1558, 'Runx1'], ['Plp4', 517, 1560, 'Runx1'], ['Tcf7', 486, 1571, 'Runx1'],
  ['Mal', 506, 1591, 'Runx1'], ['Faim2', 542, 1589, 'Runx1'], ['Lrrk1', 524, 1617, 'Runx1'], ['Foxp1', 379, 1670, 'Runx1 Ikzf3'], ['Aff3', 409, 1668, 'Runx1 Ikzf3'], ['Mab21l2', 440, 1673, 'Runx1 Ikzf3'],
  ['Fbln7', 356, 1700, 'Ikzf3'], ['Adam22', 474, 1702, 'Ikzf3']
];

const FONT = '"Liberation Sans", sans-serif';
const RED = '#a52a2a';
const clusterColors = ['#f8766d', '#a3a500', '#22b573', '#3aa6e0', '#c77cbc'];
const arcShape = [[0, 0], [0.1, -0.42], [0.25, -0.78], [0.5, -1], [0.75, -0.78], [0.9, -0.42], [1, 0]];

Chart.defaults.font.family = FONT;
Chart.defaults.animation = false;

function addText(text, x, y, size, opt) {
  opt = opt || {};
  const d = document.createElement('div');
  d.className = 't';
  d.textContent = text;
  d.style.left = x + 'px';
  d.style.top = y + 'px';
  d.style.fontSize = size + 'px';
  if (opt.rot) d.style.transform = 'translate(-50%,-50%) rotate(-90deg)';
  if (opt.italic) d.style.fontStyle = 'italic';
  if (opt.color) d.style.color = opt.color;
  document.body.appendChild(d);
}

// items are text and boxes given in scale values
function itemsPlugin(items) {
  return {
    id: 'items',
    afterDatasetsDraw(chart) {
      const ctx = chart.ctx;
      ctx.save();
      items.forEach(function(it) {
        const x = chart.scales.x.getPixelForValue(it.x);
        const y = chart.scales[it.axis || 'y'].getPixelForValue(it.y);
        if (it.box) {
          ctx.fillStyle = '#f59a9e';
          ctx.fillRect(x - it.box[0] / 2, y - it.box[1] / 2, it.box[0], it.box[1]);
        }
        ctx.font = it.font;
        ctx.fillStyle = it.color || '#000';
        ctx.textAlign = it.align || 'center';
        ctx.textBaseline = 'middle';
        ctx.fillText(it.t, x, y);
      });
      ctx.restore();
    }
  };
}

// canvas is placed so that the plot area lands on the given rectangle
function place(plot, margin, config, shift) {
  const c = document.createElement('canvas');
  const w = plot.r - plot.l + margin.l + margin.r;
  const h = plot.b - plot.t + margin.t + margin.b;
  c.width = w;
  c.height = h;
  c.style.left = (plot.l - margin.l) + 'px';
  c.style.top = (plot.t - margin.t + (shift || 0)) + 'px';
  document.body.appendChild(c);
  config.options = config.options || {};
  config.options.responsive = false;
  config.options.events = [];
  config.options.layout = { autoPadding: false, padding: { top: margin.t, right: margin.r, left: 0, bottom: 0 } };
  config.options.plugins = { legend: { display: false }, tooltip: { enabled: false }, title: { display: false } };
  Object.keys(config.options.scales).forEach(function(k) {
    const s = config.options.scales[k];
    s.afterFit = function(scale) {
      if (k === 'x') scale.height = margin.b; else scale.width = margin.l;
    };
  });
  return new Chart(c.getContext('2d'), config);
}

function axis(tickList, size, extra, labels) {
  return Object.assign({
    type: 'linear',
    afterBuildTicks: function(scale) { scale.ticks = tickList.map(function(v) { return { value: v }; }); },
    grid: { drawOnChartArea: false, tickLength: 4, color: '#000', lineWidth: 1 },
    border: { color: '#000', width: 2 },
    ticks: { color: '#222', font: { size: size }, padding: 3, autoSkip: false, maxRotation: 0,
      callback: function(v, i) { return labels ? labels[i] : String(v); } }
  }, extra);
}

// bottom axis with labels but no tick marks
function plainX(tickList, size, extra, labels, pad) {
  const a = axis(tickList, size, extra, labels);
  a.grid = { display: false, drawTicks: false };
  a.ticks.padding = pad;
  return a;
}

function segs(list) {
  // list of [x0,y0,x1,y1], one break between segments
  const out = [];
  list.forEach(function(s) {
    out.push({ x: s[0], y: s[1] }, { x: s[2], y: s[3] }, { x: null, y: null });
  });
  return out;
}

function lineSet(data, color, width, extra) {
  return Object.assign({ type: 'line', data: data, borderColor: color, borderWidth: width, pointRadius: 0, fill: false, tension: 0, spanGaps: false }, extra);
}

// ---------- panel a ----------
function rankedPanel(p) {
  const thin = [], thick = [];
  p.grayN.forEach(function(n, i) {
    thick.push([p.grayRank[i], n, p.grayRank[i + 1], n]);
    thin.push({ x: p.grayRank[i], y: n }, { x: p.grayRank[i + 1], y: n });
  });
  const redThick = p.redThick.map(function(r) { return [r[0], r[2], r[1], r[2]]; });
  const leaders = p.genes.map(function(g, i) {
    const k = p.genePoint[i];
    return [p.geneRank[i] - p.nudge, p.geneN[i], p.redRank[k], p.redN[k]];
  });
  const items = p.genes.map(function(g, i) {
    return { x: p.geneRank[i], y: p.geneN[i], t: g, font: 'italic 15.5px ' + FONT, color: RED, align: 'right' };
  });
  const redPts = p.redRank.map(function(r, i) { return { x: r, y: p.redN[i] }; });
  redPts.push({ x: p.xCut, y: p.redN[p.redN.length - 1] });
  place(p.plot, { l: 40, r: 6, t: 20, b: 34 }, {
    data: { datasets: [
      lineSet(segs(leaders), RED, 1),
      lineSet(redPts, RED, 1.6, { pointRadius: 2.6, pointBackgroundColor: RED, pointBorderWidth: 0 }),
      lineSet(segs(redThick), RED, 5),
      lineSet(segs([[p.xMin * 0.985, p.cutN, p.xMax, p.cutN]]), '#000', p.hDash, { borderDash: [2, 3] }),
      lineSet(segs([[p.xCut, p.yMin, p.xCut, p.vTop]]), '#000', 1.6, { borderDash: [2, 3] }),
      lineSet(segs(thick), '#aaaaaa', 5),
      lineSet(thin, '#aaaaaa', 1)
    ] },
    options: { scales: {
      x: plainX(p.xTicks, 18, { reverse: true, min: p.xMin, max: p.xMax }, p.xLabels, p.xPad),
      y: axis(p.yTicks, 18, { min: p.yMin, max: p.yMax })
    } },
    plugins: [itemsPlugin(items)]
  });
}

rankedPanel({ plot: { l: 65, r: 412, t: 68, b: 443 }, xMin: -296, xMax: 5739, yMin: -0.35, yMax: 30.25, xTicks: a1XTicks, xLabels: a1XLabels, xPad: 5, yTicks: a1YTicks,
  grayRank: a1GrayRank, grayN: a1GrayN, redRank: a1RedRank, redN: a1RedN, genes: a1Genes, geneRank: a1GeneRank, geneN: a1GeneN, genePoint: a1GenePoint,
  redThick: [[288, 181, 4.86]], xCut: 288, cutN: 4.86, vTop: 29.6, hDash: 1.8, nudge: 30 });
rankedPanel({ plot: { l: 478, r: 825, t: 69, b: 444 }, xMin: -287, xMax: 5565, yMin: -1.09, yMax: 42.96, xTicks: a2XTicks, xLabels: a2XLabels, xPad: 8, yTicks: a2YTicks,
  grayRank: a2GrayRank, grayN: a2GrayN, redRank: a2RedRank, redN: a2RedN, genes: a2Genes, geneRank: a2GeneRank, geneN: a2GeneN, genePoint: a2GenePoint,
  redThick: [[324, 231, 4.69], [231, 168, 5.74]], xCut: 324, cutN: 4.69, vTop: 42, hDash: 1.2, nudge: 30 });

// ---------- panel b ----------
function linkColor(s) {
  if (s < 0) return '#e8836b';
  if (s >= 0.11) return '#4f50a8';
  if (s >= 0.09) return '#6a5fb4';
  return '#8270bd';
}

function trackPanel(p) {
  const k = function(list) { return list.map(function(v) { return v * 1000; }); };
  const sets = [], scales = {};
  const rows = [
    { id: 'links', h: 38, min: -1.05, max: 0.05, line: true },
    { id: 'gap3', h: 21 },
    { id: 'peaks', h: 14, min: 0, max: 1, line: true },
    { id: 'gap2', h: 20 },
    { id: 'genes', h: 26, min: 0, max: 1, line: true },
    { id: 'gap1', h: 39 }
  ];
  for (let i = 4; i >= 0; i--) rows.push({ id: 's' + i, h: 40, min: 0, max: p.range, sig: true, line: true });
  rows.forEach(function(r) {
    scales[r.id] = {
      type: 'linear', stack: 'tracks', stackWeight: r.h, position: 'left', offset: false,
      min: r.min === undefined ? 0 : r.min, max: r.max === undefined ? 1 : r.max,
      grid: { display: !!r.sig, drawOnChartArea: false, tickLength: 3, color: '#000' },
      border: { display: !!r.line, color: '#000', width: 1.5 },
      ticks: { display: r.sig ? true : false, stepSize: p.range / 3, color: 'rgba(0,0,0,0)', font: { size: 1 }, padding: 0 }
    };
  });
  // tracks for the five clusters, pale tips over a stronger foot
  p.spikes.forEach(function(vals, i) {
    const pts = vals.map(function(v, j) { return { x: p.spikePos[j] * 1000, y: v }; })
      .concat(p.lowVal.map(function(v, j) { return { x: p.lowPos[j] * 1000, y: v * p.lowScale[i] }; }));
    sets.push(lineSet([{ x: p.tStart, y: 0 }, { x: p.tEnd, y: 0 }], '#666', 2, { yAxisID: 's' + i }));
    sets.push({ type: 'bar', yAxisID: 's' + i, barThickness: 1.1, backgroundColor: clusterColors[i],
      data: pts.map(function(q) { return { x: q.x, y: q.y * 0.35 }; }) });
    sets.push({ type: 'bar', yAxisID: 's' + i, barThickness: 1.3, backgroundColor: clusterColors[i] + '80', data: pts });
  });
  sets.push({ type: 'bar', yAxisID: 'genes', barThickness: p.exonW, backgroundColor: '#2b2f86',
    data: k(p.exons).map(function(v) { return { x: v, y: [0.14, 0.9] }; }) });
  sets.push(lineSet(k(p.arrows).map(function(v) { return { x: v, y: 0.14 }; }), '#27297e', 3, { yAxisID: 'genes', pointStyle: 'rectRot', pointRadius: 4, pointBackgroundColor: '#27297e', pointBorderWidth: 0 }));
  sets.push({ type: 'bar', yAxisID: 'peaks', barThickness: 1, backgroundColor: '#8a8a8a',
    data: k(p.peaks).map(function(v) { return { x: v, y: 1 }; }) });
  p.linkStart.forEach(function(s, i) {
    const e = p.linkEnd[i];
    const arc = arcShape.map(function(a) { return { x: (s + (e - s) * a[0]) * 1000, y: a[1] }; });
    sets.push(lineSet(arc, linkColor(p.linkScore[i]), 1.8, { yAxisID: 'links', tension: 0.4, clip: false }));
  });
  sets.push(lineSet([{ x: p.tStart, y: 0 }, { x: p.tEnd, y: 0 }], '#cccccc', 2, { yAxisID: 'links' }));
  sets.push(lineSet([{ x: p.tStart, y: -1.05 }, { x: p.tEnd, y: -1.05 }], '#111', 3, { yAxisID: 'links', clip: false }));
  scales.x = plainX(p.ticks, 14.2, { min: p.xMin * 1000, max: p.xMax * 1000, offset: false }, null, 7);
  scales.x.border = { display: false };
  place(p.plot, { l: 30, r: 34, t: 4, b: 26 }, {
    data: { datasets: sets },
    options: { scales: scales },
    plugins: [itemsPlugin(clusterNames.map(function(n, i) {
      return { axis: 's' + i, x: p.nameX, y: p.range * 0.35, t: n, font: '17.3px ' + FONT, color: '#111', align: 'left' };
    }))]
  });
}

trackPanel({ plot: { l: 891, r: 1218, t: 59, b: 417 }, range: 130, xMin: 98735, xMax: 99577, tStart: 98792000, tEnd: 99577000, nameX: 98755000, exonW: 1.3,
  spikePos: leftSpikePos, spikes: [leftSpike0, leftSpike1, leftSpike2, leftSpike3, leftSpike4], lowPos: leftLowPos, lowVal: leftLowVal, lowScale: leftLowScale, exons: leftExons, arrows: leftArrows, peaks: leftPeaks,
  linkStart: leftLinkStart, linkEnd: leftLinkEnd, linkScore: leftLinkScore, ticks: leftTicks });
trackPanel({ plot: { l: 1334, r: 1705, t: 59, b: 417 }, range: 97, xMin: 44918, xMax: 45156, tStart: 44958000, tEnd: 45156000, nameX: 44921000, exonW: 2,
  spikePos: rightSpikePos, spikes: [rightSpike0, rightSpike1, rightSpike2, rightSpike3, rightSpike4], lowPos: rightLowPos, lowVal: rightLowVal, lowScale: rightLowScale, exons: rightExons, arrows: rightArrows, peaks: rightPeaks,
  linkStart: rightLinkStart, linkEnd: rightLinkEnd, linkScore: rightLinkScore, ticks: rightTicks });

function violinPanel(p) {
  const sets = [], scales = {};
  [4, 3, 2, 1, 0].forEach(function(i) {
    scales['v' + i] = { type: 'linear', stack: 'vio', stackWeight: i === 4 ? 37.5 : 41.7, position: 'left', min: i === 4 ? -0.8 : -1, max: 1,
      grid: { display: false }, border: { display: false }, ticks: { display: false } };
    const top = p.expr[i].map(function(x, j) { return { x: x, y: p.dens[i][j] }; });
    const low = p.expr[i].map(function(x, j) { return { x: x, y: -p.dens[i][j] }; }).reverse();
    sets.push(lineSet(top.concat(low, [top[0]]), '#2a2a2a', 1.5, { yAxisID: 'v' + i, fill: 'shape', backgroundColor: clusterColors[i], clip: false }));
  });
  sets.push(lineSet([{ x: -0.5, y: 0.8 }, { x: 4.4, y: 0.8 }], '#000', p.bar, { yAxisID: 'v0', clip: false }));
  sets.push(lineSet([{ x: 2, y: 0.8 }, { x: 2, y: 0.98 }], '#000', 1.2, { yAxisID: 'v0', clip: false }));
  scales.x = axis(violinTicks, 11, { min: 0, max: 4.1 });
  scales.x.border = { color: '#222', width: 1.2 };
  scales.x.grid = { drawOnChartArea: false, tickLength: 3, color: '#222' };
  scales.x.ticks.padding = 1;
  scales.x.ticks.color = '#444';
  place(p.plot, { l: 8, r: 10, t: 4, b: 20 }, { data: { datasets: sets }, options: { scales: scales } });
}
violinPanel({ plot: { l: 1238, r: 1265, t: 56.8, b: 261 }, expr: foxp1Expr, dens: foxp1Dens, bar: 5 });
violinPanel({ plot: { l: 1723, r: 1750, t: 56.8, b: 261 }, expr: zeb2Expr, dens: zeb2Dens, bar: 1.5 });

// ---------- panel c ----------
function motifPanel(p) {
  const leaders = p.names.map(function(n, i) {
    const r = p.startRank[i];
    return [r, p.values[r - 1], p.endRank[i], p.endY[i]];
  });
  const items = p.names.map(function(n, i) {
    const hot = n === 'FOXP1' || n === 'KLF2';
    return { x: p.nameX, y: p.nameY[i], t: n, font: '15px ' + FONT, color: (hot && p.hot) ? '#ee2a24' : '#111' };
  }).concat(p.extra || []);
  const yAxis = axis(p.yTicks, 18, { min: 0, max: p.yMax });
  yAxis.grid.tickLength = p.yTick;
  yAxis.ticks.padding = p.yPad;
  place(p.plot, { l: 40, r: 4, t: 20, b: 32 }, {
    data: { datasets: [
      lineSet(segs(leaders), '#000', 1.6),
      { type: 'bar', barThickness: p.barW, data: p.values.map(function(v, i) { return { x: i + 1, y: v }; }),
        backgroundColor: p.values.map(function(v, i) { return (p.hot && (i === 10 || i === 11)) ? '#ee2a24' : '#1c1c1c'; }) }
    ] },
    options: { scales: {
      x: plainX(p.xTicks, 18, { min: p.xMin, max: p.xMax, offset: false }, null, 5),
      y: yAxis
    } },
    plugins: [itemsPlugin(items)]
  });
}

const smallText = '15px ' + FONT;
motifPanel({ plot: { l: 65, r: 421.5, t: 625.5, b: 1016 }, xMin: -6, xMax: 133.5, yMax: 95.5, values: c1Values, names: c1Names, nameX: 58.7, nameY: c1NameY, endRank: c1EndRank, endY: c1EndY, startRank: c1StartRank, xTicks: c1XTicks, yTicks: c1YTicks, barW: 2.1, hot: true, yTick: 2, yPad: 1,
  extra: [
    { x: 70.6, y: 46.6, t: '(11', font: smallText, color: '#111', align: 'left' }, { x: 79, y: 48, t: 'th', font: '9px ' + FONT, color: '#111', align: 'left' }, { x: 82.8, y: 46.6, t: 'of 129)', font: smallText, color: '#111', align: 'left' },
    { x: 68.1, y: 42, t: '(12', font: smallText, color: '#111', align: 'left' }, { x: 76.5, y: 43.4, t: 'th', font: '9px ' + FONT, color: '#111', align: 'left' }, { x: 80.3, y: 42, t: 'of 129)', font: smallText, color: '#111', align: 'left' }
  ] });
motifPanel({ plot: { l: 498, r: 830, t: 643, b: 1016 }, xMin: -6.3, xMax: 133.5, yMax: 250.3, values: c2Values, names: c2Names, nameX: 58.2, nameY: c2EndY, endRank: c2EndRank, endY: c2EndY, startRank: c2StartRank, xTicks: c2XTicks, yTicks: c2YTicks, barW: 1.9, hot: false, yTick: 4, yPad: 2 });

// ---------- panels d, e ----------
function networkPanel(p) {
  const at = {};
  p.hubs.forEach(function(h) { at[h[0]] = h; });
  const edges = [], dots = [], items = [];
  p.genes.forEach(function(g) {
    dots.push({ x: g[1], y: g[2] });
    g[3].split(' ').forEach(function(name) {
      edges.push({ x: g[1], y: g[2] }, { x: at[name][1], y: at[name][2] }, { x: null, y: null });
    });
    items.push({ x: g[4] || g[1], y: g[5] || g[2], t: g[0], font: p.geneFont });
  });
  p.hubs.forEach(function(h) {
    items.push({ x: h[1], y: h[2], t: h[0], font: p.hubFont, box: p.box });
  });
  place(p.plot, { l: 0, r: 0, t: 0, b: 0 }, {
    data: { datasets: [
      lineSet(dots, 'transparent', 0, { showLine: false, pointRadius: p.dot, pointBackgroundColor: '#2b3fb0', pointBorderWidth: 0 }),
      lineSet(edges, '#858585', p.edge)
    ] },
    options: { scales: {
      x: { type: 'linear', display: false, min: p.plot.l, max: p.plot.r },
      y: { type: 'linear', display: false, reverse: true, min: p.plot.t, max: p.plot.b }
    } },
    plugins: [itemsPlugin(items)]
  }, p.shift);
}
networkPanel({ plot: { l: 840, r: 1800, t: 525, b: 1320 }, shift: 2, hubs: dHubs, genes: dGenes.concat(dOffset), geneFont: 'bold 6.5px ' + FONT, hubFont: '19.5px ' + FONT, box: [55, 16], dot: 1.5, edge: 1.15 });
networkPanel({ plot: { l: 40, r: 840, t: 1100, b: 1707 }, shift: 1.5, hubs: eHubs, genes: eGenes, geneFont: 'bold 5px ' + FONT, hubFont: '15.5px ' + FONT, box: [42, 13], dot: 0.7, edge: 1.2 });

// ---------- page text ----------
[['a', 19, 23], ['b', 853, 20], ['c', 19, 567], ['d', 855, 565], ['e', 18, 1119]].forEach(function(l) { addText(l[0], l[1], l[2], 35); });
addText('E2A-PBX1', 222, 22, 25);
addText('B16-CD19', 645, 22, 25);
addText('DORCs: ( n >= 5) = 288', 221, 61, 25);
addText('DORCs: ( n >= 5) = 324', 641, 61, 25);
addText('Number of correlated peaks', 16, 259, 25, { rot: true });
addText('Number of correlated peaks', 431, 259, 25, { rot: true });
addText('Ranked genes', 270, 486, 25);
addText('Ranked genes', 680, 486, 25);
addText('E2A-PBX1', 949, 25, 25);
addText('Normalized signal', 853.5, 161, 17.8, { rot: true });
addText('(range 0 \u2212 130)', 872, 161, 17.8, { rot: true });
addText('Normalized signal', 1296, 161, 17.8, { rot: true });
addText('(range 0 \u2212 97)', 1314.5, 161, 17.8, { rot: true });
addText('Genes', 863, 290, 17.3, { rot: true });
addText('Peaks', 863, 350, 17.3, { rot: true });
addText('Links', 863, 413, 17.3, { rot: true });
addText('Genes', 1305, 290, 17.3, { rot: true });
addText('Peaks', 1305, 347, 17.3, { rot: true });
addText('Links', 1305, 397, 17.3, { rot: true });
addText('chr6 position (bp)', 1068, 450, 17.7);
addText('chr2 position (bp)', 1555, 450, 17.7);
addText('Foxp1', 1259, 47, 18, { italic: true, color: '#444' });
addText('Zeb2', 1744, 47, 18, { italic: true, color: '#444' });
addText('Foxp1', 1254, 298, 19, { italic: true, color: '#444' });
addText('score', 1253, 326, 17);
addText('score', 1736, 326, 17);
[['0.11', 349], ['0.09', 364], ['0.07', 379]].forEach(function(r) { addText(r[0], 1262, r[1], 14); });
[['0.10', 348], ['0.05', 363], ['0.00', 378], ['\u22120.05', 393]].forEach(function(r) { addText(r[0], r[0].length > 4 ? 1744 : 1746, r[1], 14); });
[[1232, 'linear-gradient(#3f4fa8,#6a5fb4 60%,#9a80c8)'], [1714.5, 'linear-gradient(#3f4fa8,#7b68b8 35%,#b8aed6 60%,#cccccc 72%,#e8836b)']].forEach(function(b) {
  const d = document.createElement('div');
  d.className = 'bar';
  d.style.left = b[0] + 'px';
  d.style.background = b[1];
  document.body.appendChild(d);
});
addText('E2A-PBX1', 163, 568, 25);
addText('B16-CD19', 597, 568, 25);
addText('Number of regulated DORCs', 16, 831, 25, { rot: true });
addText('Number of regulated DORCs', 444.5, 831, 25, { rot: true });
addText('Ranked TF motifs', 241, 1050, 25);
addText('Ranked TF motifs', 663, 1050, 25);
</script>
</body>
</html>
